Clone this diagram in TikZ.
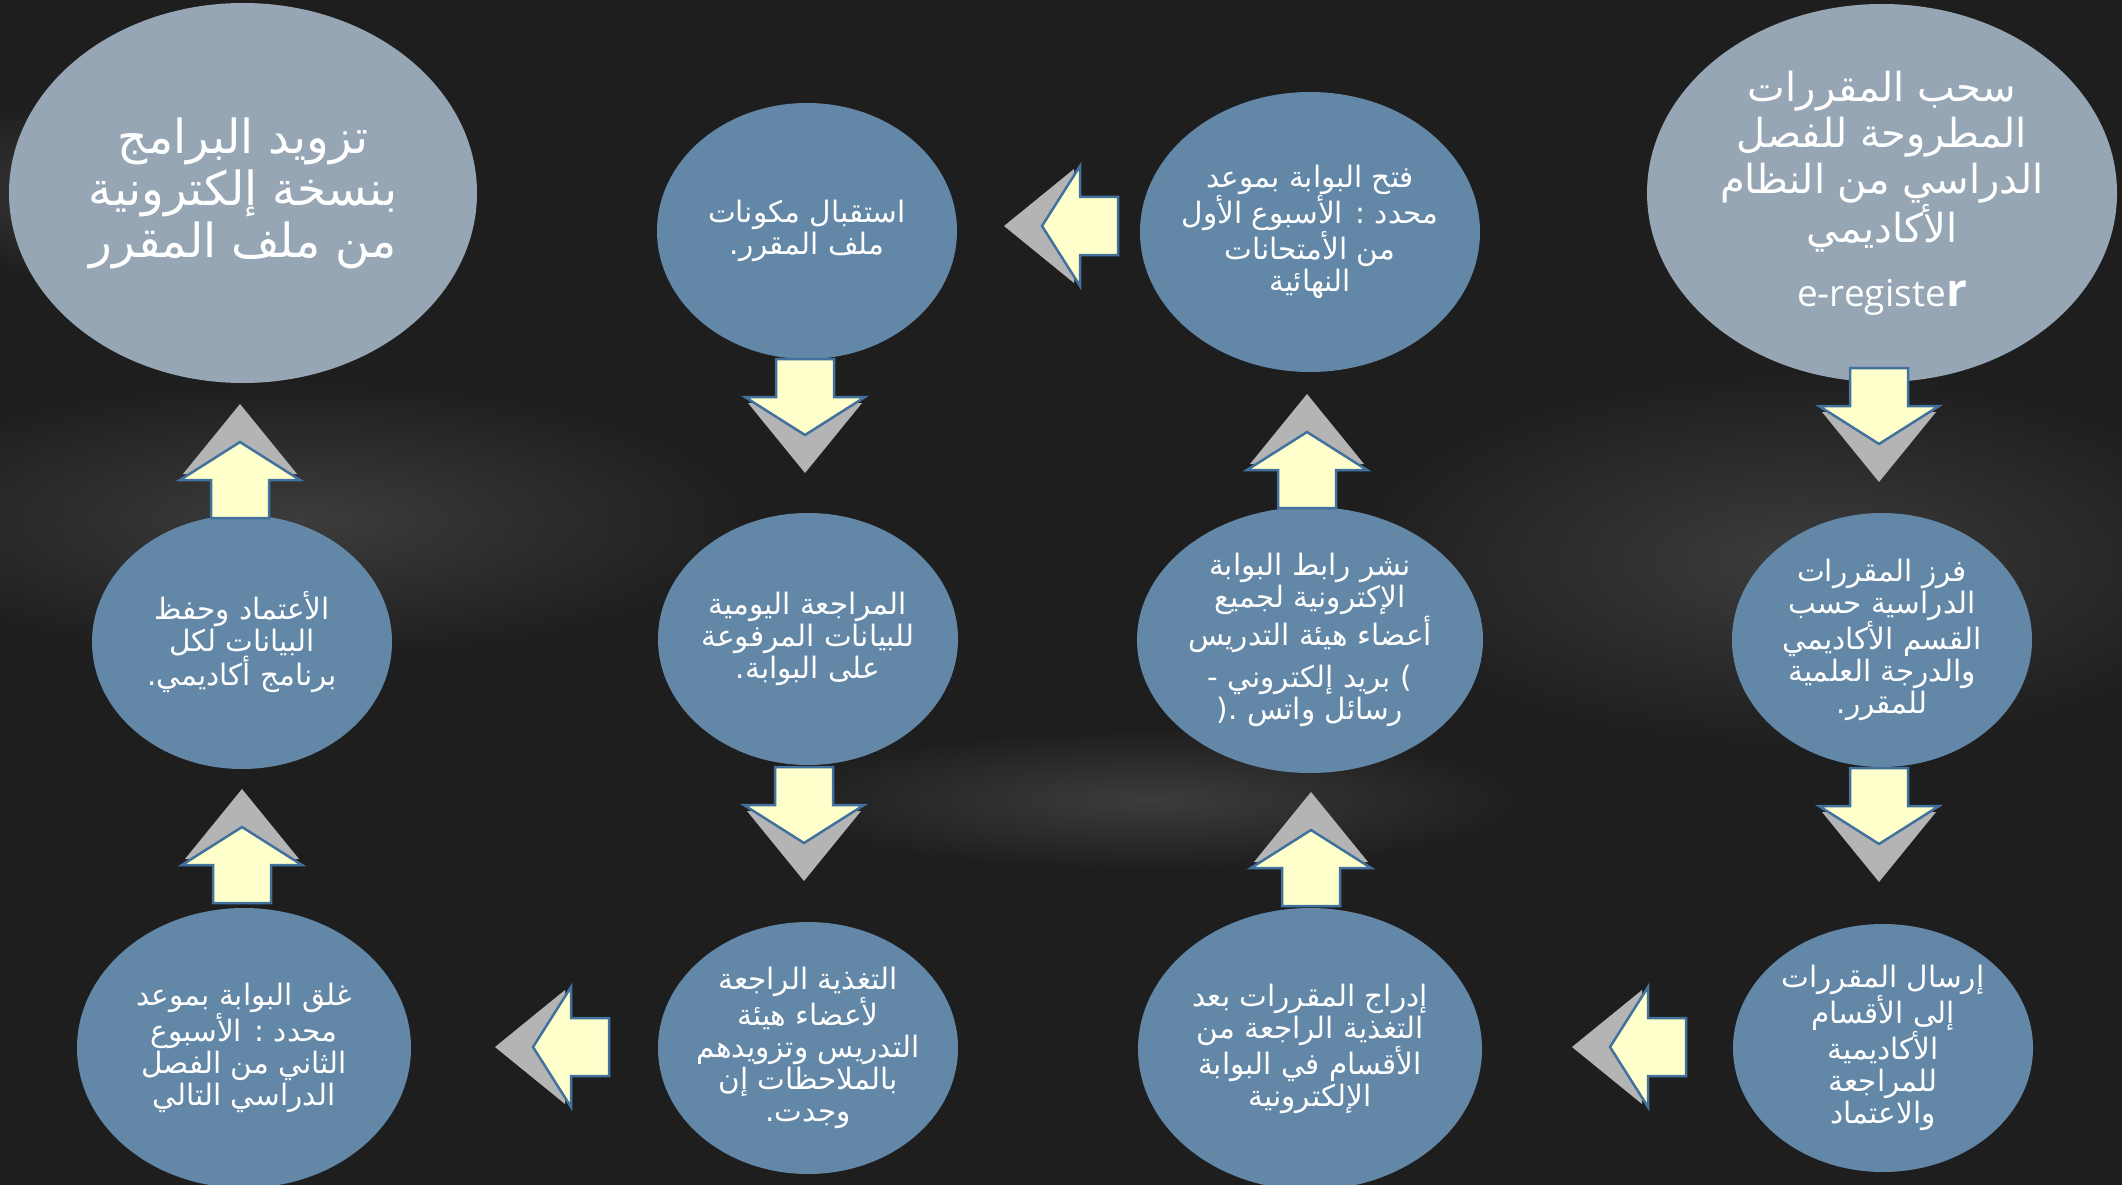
\documentclass[tikz,border=0pt]{standalone}
\usepackage{fontspec}
\setmainfont{DejaVu Sans}
\newfontfamily\arabicfont[Script=Arabic]{DejaVu Sans}
\newfontfamily\latinfont{Open Sans}
\TeXXeTstate=1
\usetikzlibrary{shapes.geometric,calc}
\definecolor{bgdark}{HTML}{1E1E1E}
\definecolor{bgpatch}{HTML}{3C3C3C}
\definecolor{ellgray}{HTML}{96A6B4}
\definecolor{ellblue}{HTML}{6387A7}
\definecolor{arrowyellow}{HTML}{FFFFCC}
\definecolor{arrowblue}{HTML}{41719C}
\definecolor{arrowgray}{HTML}{B4B4B4}
\newcommand{\AR}[1]{\beginR #1\endR}
\newcommand{\blockarrow}[2]{%
  \begin{scope}[shift={#1}, rotate=#2]
    \fill[arrowgray] (44,-57) -- (114,0) -- (44,57) -- cycle;
    \filldraw[arrowbody] (0,-29) -- (38,-29) -- (38,-60) -- (76,0) -- (38,60) -- (38,29) -- (0,29) -- cycle;
  \end{scope}}
\tikzset{
  bubble/.style={ellipse, inner sep=-40pt, outer sep=0pt, text=white, align=center,
    font=\arabicfont\fontsize{29.5}{32}\selectfont},
  bluebubble/.style={bubble, fill=ellblue},
  graybubble/.style={bubble, fill=ellgray},
  arrowbody/.style={fill=arrowyellow, draw=arrowblue, line width=2.5pt, line join=miter},
  glow/.style={inner color=bgpatch, outer color=bgdark}
}
\begin{document}
\begin{tikzpicture}[x=1pt, y=-1pt]
\useasboundingbox (0,0) rectangle (2122,1185);
\fill[bgdark] (0,0) rectangle (2122,1185);
% faint background texture
\shade[glow] (300,520) ellipse (460 and 140);
\shade[glow] (1800,560) ellipse (460 and 190);
\shade[glow] (1150,800) ellipse (380 and 70);
\shade[glow] (60,190) ellipse (120 and 90);

% nodes
\node[graybubble, minimum width=468pt, minimum height=380pt, font=\arabicfont\fontsize{47}{52}\selectfont] (tl) at (243,193)
  {\AR{تزويد البرامج}\\\AR{بنسخة إلكترونية}\\\AR{من ملف المقرر}};
\node[graybubble, minimum width=470pt, minimum height=378pt, font=\arabicfont\fontsize{40}{46}\selectfont] (tr) at (1882,193)
  {\AR{سحب المقررات}\\\AR{المطروحة للفصل}\\\AR{الدراسي من النظام}\\\AR{الأكاديمي}\\[18pt]{\latinfont\fontsize{37}{40}\selectfont e-registe{\fontsize{46}{40}\selectfont\bfseries r}}};
\node[bluebubble, minimum width=340pt, minimum height=280pt] (t3) at (1310,232)
  {\AR{فتح البوابة بموعد}\\\AR{محدد : الأسبوع الأول}\\\AR{من الأمتحانات}\\\AR{النهائية}};
\node[bluebubble, minimum width=300pt, minimum height=256pt] (t2) at (807,231)
  {\AR{استقبال مكونات}\\.\AR{ملف المقرر}};
\node[bluebubble, minimum width=300pt, minimum height=254pt] (m1) at (242,642)
  {\AR{الأعتماد وحفظ}\\\AR{البيانات لكل}\\.\AR{برنامج أكاديمي}};
\node[bluebubble, minimum width=300pt, minimum height=252pt] (m2) at (808,639)
  {\AR{المراجعة اليومية}\\\AR{للبيانات المرفوعة}\\.\AR{على البوابة}};
\node[bluebubble, minimum width=346pt, minimum height=266pt] (m3) at (1310,640)
  {\AR{نشر رابط البوابة}\\\AR{الإكترونية لجميع}\\\AR{أعضاء هيئة التدريس}\\[10pt]-\ \AR{بريد إلكتروني}\ )\\.(\ \AR{رسائل واتس}};
\node[bluebubble, minimum width=300pt, minimum height=254pt] (m4) at (1882,640)
  {\AR{فرز المقررات}\\\AR{الدراسية حسب}\\\AR{القسم الأكاديمي}\\\AR{والدرجة العلمية}\\.\AR{للمقرر}};
\node[bluebubble, minimum width=334pt, minimum height=280pt] (b1) at (244,1048)
  {\AR{غلق البوابة بموعد}\\\AR{محدد : الأسبوع}\\\AR{الثاني من الفصل}\\\AR{الدراسي التالي}};
\node[bluebubble, minimum width=300pt, minimum height=252pt] (b2) at (808,1048)
  {\AR{التغذية الراجعة}\\\AR{لأعضاء هيئة}\\\AR{التدريس وتزويدهم}\\\AR{بالملاحظات إن}\\.\AR{وجدت}};
\node[bluebubble, minimum width=344pt, minimum height=282pt] (b3) at (1310,1049)
  {\AR{إدراج المقررات بعد}\\\AR{التغذية الراجعة من}\\\AR{الأقسام في البوابة}\\\AR{الإلكترونية}};
\node[bluebubble, minimum width=300pt, minimum height=248pt] (b4) at (1883,1048)
  {\AR{إرسال المقررات}\\\AR{إلى الأقسام}\\\AR{الأكاديمية}\\\AR{للمراجعة}\\\AR{والاعتماد}};

% block arrows (source -> target)
\blockarrow{($(tr.south)+(-3,-14)$)}{-90}  % tr -> m4
\blockarrow{($(m4.south)+(-3,1)$)}{-90}    % m4 -> b4
\blockarrow{($(b4.west)+(-47,-1)$)}{180}   % b4 -> b3
\blockarrow{($(b3.north)+(1,-2)$)}{90}     % b3 -> m3
\blockarrow{($(m3.north)+(-3,1)$)}{90}     % m3 -> t3
\blockarrow{($(t3.west)+(-22,-6)$)}{180}   % t3 -> t2
\blockarrow{($(t2.south)+(-2,0)$)}{-90}    % t2 -> m2
\blockarrow{($(m2.south)+(-4,2)$)}{-90}    % m2 -> b2
\blockarrow{($(b2.west)+(-49,-1)$)}{180}   % b2 -> b1
\blockarrow{($(b1.north)+(-2,-5)$)}{90}    % b1 -> m1
\blockarrow{($(m1.north)+(-2,3)$)}{90}     % m1 -> tl
\end{tikzpicture}
\end{document}
